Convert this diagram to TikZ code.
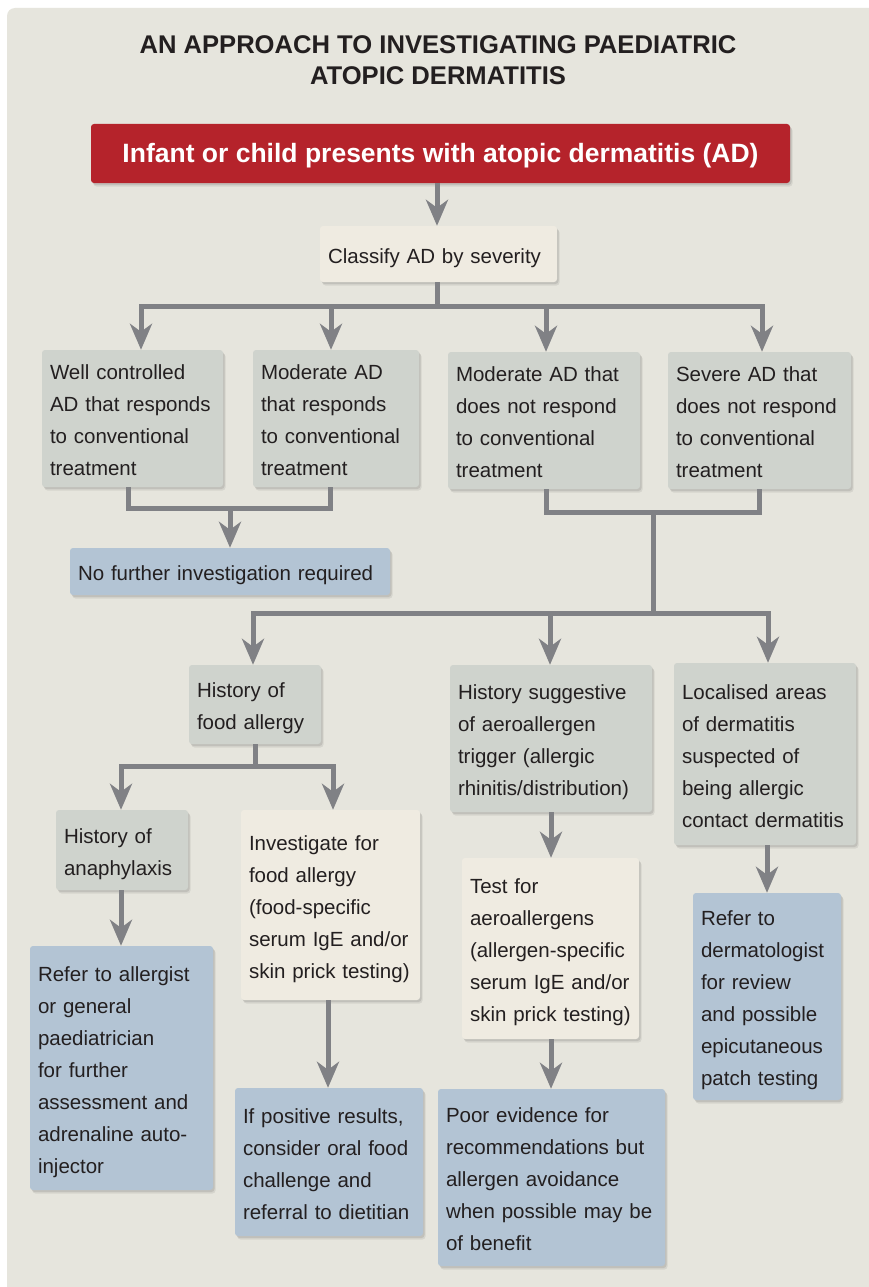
\documentclass[tikz,border=0pt]{standalone}
\usepackage{fontspec}
\setmainfont{Liberation Sans}
\usetikzlibrary{arrows.meta,shadows}
\definecolor{bgc}{HTML}{E6E5DD}
\definecolor{redc}{HTML}{B5232B}
\definecolor{creamc}{HTML}{EFEBE1}
\definecolor{grayc}{HTML}{CFD3CD}
\definecolor{bluec}{HTML}{B3C4D4}
\definecolor{linec}{HTML}{808185}
\definecolor{txtc}{HTML}{231F20}
\newcommand\mkbox[7]{%
  \pgfmathsetmacro\mkw{#5-#3}%
  \pgfmathsetmacro\mkh{#6-#4}%
  \pgfmathsetmacro\mktw{#5-#3-16}%
  \node[#2, minimum width=\mkw pt, minimum height=\mkh pt, text width=\mktw pt]
    (#1) at ({(#3+#5)/2},{(#4+#6)/2})
    {\raisebox{-3pt}[\height][\depth]{\begin{tabular}{@{}l@{}}#7\end{tabular}}};}
\tikzset{
  shad/.style={drop shadow={shadow xshift=2.5pt, shadow yshift=-3.5pt, opacity=0.07, fill=black},
               drop shadow={shadow xshift=1.5pt, shadow yshift=-2pt, opacity=0.09, fill=black}},
  boxbase/.style={shad, rounded corners=3pt, inner xsep=8pt, inner ysep=0pt, align=left,
    font=\fontsize{20.5}{32}\selectfont, text=txtc},
  gbox/.style={boxbase, fill=grayc},
  cbox/.style={boxbase, fill=creamc},
  bbox/.style={boxbase, fill=bluec},
  ln/.style={draw=linec, line width=5pt},
  arr/.style={ln, -{Stealth[length=26pt, width=22pt, inset=8pt]}},
}
\begin{document}
\begin{tikzpicture}[x=1pt, y=-1pt]
\useasboundingbox (0,0) rectangle (869,1287);
\fill[white] (0,0) rectangle (869,1287);
\fill[bgc, rounded corners=8pt] (7,8) rectangle (900,1320);

\node[text=txtc, align=center, inner sep=0pt,
  font=\bfseries\fontsize{25.6}{31}\selectfont] (title) at (438,60)
  {AN APPROACH TO INVESTIGATING PAEDIATRIC\\ATOPIC DERMATITIS};

\node[shad, fill=redc, rounded corners=3pt, minimum width=699pt, minimum height=59pt,
  inner sep=0pt, text=white, font=\bfseries\fontsize{26.5}{30}\selectfont] (top)
  at (440.5,153.5) {\raisebox{-2pt}[\height][\depth]{Infant or child presents with atopic dermatitis (AD)}};

\mkbox{cls}{cbox}{320}{226}{557}{282}{Classify AD by severity}
\mkbox{b1}{gbox}{42}{350}{223}{487}{Well controlled\\AD that responds\\to conventional\\treatment}
\mkbox{b2}{gbox}{253}{350}{419}{487}{Moderate AD\\that responds\\to conventional\\treatment}
\mkbox{b3}{gbox}{448}{352}{640}{489}{Moderate AD that\\does not respond\\to conventional\\treatment}
\mkbox{b4}{gbox}{668}{352}{851}{489}{Severe AD that\\does not respond\\to conventional\\treatment}
\mkbox{nf}{bbox}{70}{548}{390}{595}{No further investigation required}
\mkbox{c1}{gbox}{189}{665}{321}{744}{History of\\food allergy}
\mkbox{c2}{gbox}{450}{665}{652}{812}{History suggestive\\of aeroallergen\\trigger (allergic\\rhinitis/distribution)}
\mkbox{c3}{gbox}{674}{663}{856}{845}{Localised areas\\of dermatitis\\suspected of\\being allergic\\contact dermatitis}
\mkbox{d1}{gbox}{56}{810}{188}{890}{History of\\anaphylaxis}
\mkbox{d2}{cbox}{241}{810}{420}{1000}{Investigate for\\food allergy\\(food-specific\\serum IgE and/or\\skin prick testing)}
\mkbox{e1}{bbox}{30}{946}{213}{1190}{Refer to allergist\\or general\\paediatrician\\for further\\assessment and\\adrenaline auto-\\injector}
\mkbox{e2}{bbox}{235}{1088}{423}{1236}{If positive results,\\consider oral food\\challenge and\\referral to dietitian}
\mkbox{f2}{cbox}{462}{858}{639}{1039}{Test for\\aeroallergens\\(allergen-specific\\serum IgE and/or\\skin prick testing)}
\mkbox{g2}{bbox}{438}{1089}{665}{1266}{Poor evidence for\\recommendations but\\allergen avoidance\\when possible may be\\of benefit}
\mkbox{h3}{bbox}{693}{893}{841}{1100}{Refer to\\dermatologist\\for review\\and possible\\epicutaneous\\patch testing}

% top -> classify
\coordinate (a0) at (437,0);
\draw[arr] (top.south -| a0) -- (cls.north -| a0);

% classify -> four severities
\coordinate (j1) at (437,306);
\coordinate (s1) at (141,306);
\coordinate (s2) at (331,306);
\coordinate (s3) at (546,306);
\coordinate (s4) at (762,306);
\draw[ln] (cls.south -| j1) -- (j1);
\draw[ln, line cap=rect] (s1) -- (s4);
\draw[arr] (s1) -- (s1 |- b1.north);
\draw[arr] (s2) -- (s2 |- b2.north);
\draw[arr] (s3) -- (s3 |- b3.north);
\draw[arr] (s4) -- (s4 |- b4.north);

% b1,b2 -> no further
\coordinate (m1) at (128,508);
\coordinate (m2) at (330,508);
\coordinate (m0) at (230,508);
\draw[ln] (b1.south -| m1) -- (m1);
\draw[ln] (b2.south -| m2) -- (m2);
\draw[ln, line cap=rect] (m1) -- (m2);
\draw[arr] (m0) -- (m0 |- nf.north);

% b3,b4 -> c row
\coordinate (n1) at (546,512);
\coordinate (n2) at (759,512);
\coordinate (n0) at (653,512);
\coordinate (k0) at (653,613);
\coordinate (k1) at (253,613);
\coordinate (k2) at (550,613);
\coordinate (k3) at (768,613);
\draw[ln] (b3.south -| n1) -- (n1);
\draw[ln] (b4.south -| n2) -- (n2);
\draw[ln, line cap=rect] (n1) -- (n2);
\draw[ln] (n0) -- (k0);
\draw[ln, line cap=rect] (k1) -- (k3);
\draw[arr] (k1) -- (k1 |- c1.north);
\draw[arr] (k2) -- (k2 |- c2.north);
\draw[arr] (k3) -- (k3 |- c3.north);

% c1 -> d1, d2
\coordinate (u0) at (255,766);
\coordinate (u1) at (121,766);
\coordinate (u2) at (333,766);
\draw[ln] (c1.south -| u0) -- (u0);
\draw[ln, line cap=rect] (u1) -- (u2);
\draw[arr] (u1) -- (u1 |- d1.north);
\draw[arr] (u2) -- (u2 |- d2.north);

% single arrows
\coordinate (v1) at (121,0);
\coordinate (v2) at (328,0);
\coordinate (v3) at (551,0);
\coordinate (v4) at (767,0);
\draw[arr] (d1.south -| v1) -- (e1.north -| v1);
\draw[arr] (d2.south -| v2) -- (e2.north -| v2);
\draw[arr] (c2.south -| v3) -- (f2.north -| v3);
\draw[arr] (f2.south -| v3) -- (g2.north -| v3);
\draw[arr] (c3.south -| v4) -- (h3.north -| v4);
\end{tikzpicture}
\end{document}
